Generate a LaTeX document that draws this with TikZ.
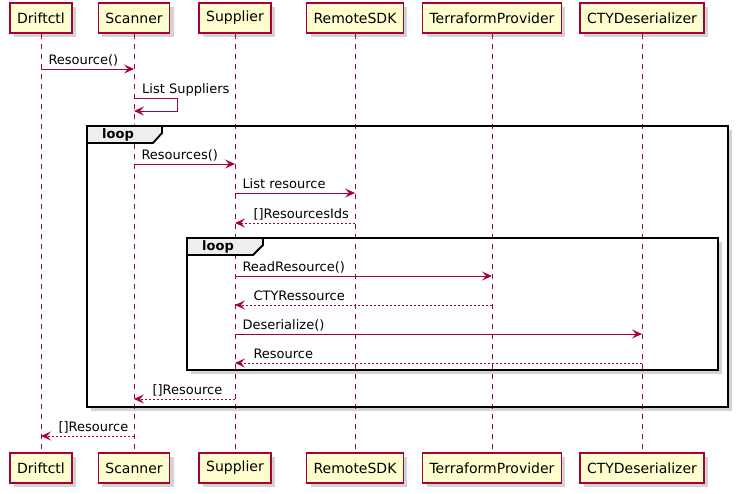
\documentclass[tikz,border=0pt]{standalone}
\usepackage{fontspec}
\setmainfont{DejaVu Sans}
\usetikzlibrary{arrows.meta, shadows}
\definecolor{umlred}{HTML}{A80036}
\definecolor{umlfill}{HTML}{FEFECE}
\definecolor{tabfill}{HTML}{EEEEEE}
\tikzset{
    actor/.style={draw=umlred, fill=umlfill, line width=1.5pt, minimum height=30pt,
        inner xsep=7pt, font=\fontsize{14}{16}\selectfont,
        drop shadow={shadow xshift=4pt, shadow yshift=-4pt, opacity=0.35}},
    lifeline/.style={umlred, line width=1pt, dash pattern=on 5pt off 5pt},
    msg/.style={umlred, line width=1pt, -{Stealth[length=10pt, width=9pt, inset=4pt]}},
    reply/.style={msg, dash pattern=on 2pt off 2pt},
    msglabel/.style={anchor=base west, inner sep=0pt, text=black, font=\fontsize{13}{15}\selectfont},
    frameback/.style={fill=white, drop shadow={shadow xshift=4pt, shadow yshift=-4pt, opacity=0.35}},
    frame/.style={draw=black, line width=1.8pt},
    looplabel/.style={inner sep=0pt, font=\fontsize{13}{15}\selectfont\bfseries},
}
\begin{document}
\begin{tikzpicture}[x=1pt, y=-1pt]
    \useasboundingbox (0,0) rectangle (738,493);
    \foreach \name/\x/\txt in {drift/41/Driftctl, scan/134/Scanner, supp/235/Supplier,
        sdk/355/RemoteSDK, tf/492/TerraformProvider, cty/642/CTYDeserializer}{
        \node[actor] (\name Top) at (\x,18) {\txt};
        \node[actor] (\name Bot) at (\x,468) {\txt};
    }
    \coordinate (outerA) at (87,126);
    \coordinate (outerB) at (728,407);
    \coordinate (innerA) at (187,238);
    \coordinate (innerB) at (718,370);
    \path[frameback] (outerA) rectangle (outerB);
    \path[frameback] (innerA) rectangle (innerB);
    \foreach \name in {drift, scan, supp, sdk, tf, cty}
        \draw[lifeline] (\name Top) -- (\name Bot);
    \draw[frame] (outerA) rectangle (outerB);
    \draw[frame, fill=tabfill] (outerA) -| ([shift={(75,7)}]outerA)
        -- ([shift={(66,17)}]outerA) -- ([shift={(0,17)}]outerA) -- cycle;
    \node[looplabel] (outerTag) at ([shift={(31,8.5)}]outerA) {loop};
    \draw[frame] (innerA) rectangle (innerB);
    \draw[frame, fill=tabfill] (innerA) -| ([shift={(76,7)}]innerA)
        -- ([shift={(66,17)}]innerA) -- ([shift={(0,17)}]innerA) -- cycle;
    \node[looplabel] (innerTag) at ([shift={(31,8.5)}]innerA) {loop};

    \coordinate (m1) at (0,69);
    \coordinate (m2) at (0,98);
    \coordinate (m2b) at (0,111);
    \coordinate (m3) at (0,164);
    \coordinate (m4) at (0,193);
    \coordinate (m5) at (0,223);
    \coordinate (m6) at (0,276);
    \coordinate (m7) at (0,305);
    \coordinate (m8) at (0,334);
    \coordinate (m9) at (0,363);
    \coordinate (m10) at (0,399);
    \coordinate (m11) at (0,436);

    \draw[msg] (driftTop |- m1) -- (scanTop |- m1)
        node[msglabel, at start, xshift=7pt, yshift=5pt] {Resource()};
    \draw[msg] (scanTop |- m2) -- ++(43,0) -- ++(0,13) -- (scanTop |- m2b);
    \node[msglabel, xshift=8pt, yshift=5pt] (selfLabel) at (scanTop |- m2) {List Suppliers};
    \draw[msg] (scanTop |- m3) -- (suppTop |- m3)
        node[msglabel, at start, xshift=7pt, yshift=5pt] {Resources()};
    \draw[msg] (suppTop |- m4) -- (sdkTop |- m4)
        node[msglabel, at start, xshift=7pt, yshift=5pt] {List resource};
    \draw[reply] (sdkTop |- m5) -- (suppTop |- m5)
        node[msglabel, at end, xshift=18pt, yshift=5pt] {[]ResourcesIds};
    \draw[msg] (suppTop |- m6) -- (tfTop |- m6)
        node[msglabel, at start, xshift=7pt, yshift=5pt] {ReadResource()};
    \draw[reply] (tfTop |- m7) -- (suppTop |- m7)
        node[msglabel, at end, xshift=18pt, yshift=5pt] {CTYRessource};
    \draw[msg] (suppTop |- m8) -- (ctyTop |- m8)
        node[msglabel, at start, xshift=7pt, yshift=5pt] {Deserialize()};
    \draw[reply] (ctyTop |- m9) -- (suppTop |- m9)
        node[msglabel, at end, xshift=18pt, yshift=5pt] {Resource};
    \draw[reply] (suppTop |- m10) -- (scanTop |- m10)
        node[msglabel, at end, xshift=18pt, yshift=5pt] {[]Resource};
    \draw[reply] (scanTop |- m11) -- (driftTop |- m11)
        node[msglabel, at end, xshift=17pt, yshift=5pt] {[]Resource};
\end{tikzpicture}
\end{document}
